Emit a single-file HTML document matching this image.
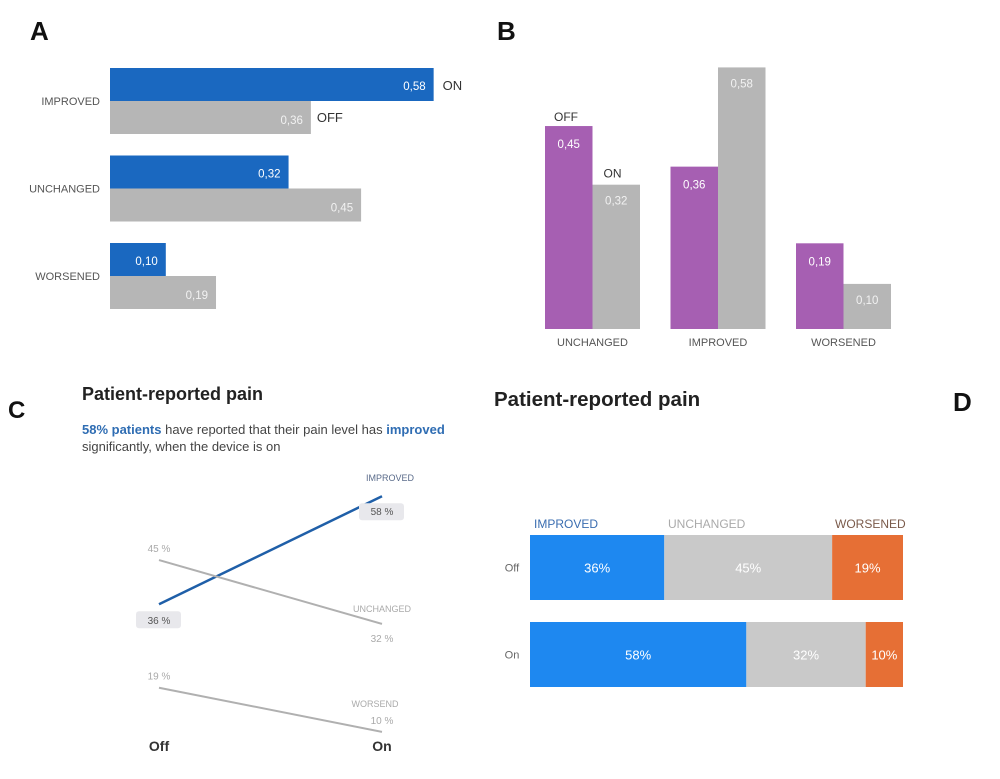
<!DOCTYPE html>
<html><head><meta charset="utf-8"><style>
html,body{margin:0;padding:0;background:#fff;}
svg{display:block;font-family:"Liberation Sans",sans-serif;}
</style></head><body>
<svg id="root" width="1000" height="779" viewBox="0 0 1000 779">
<text x="30" y="40" font-size="26" font-weight="bold" fill="#111">A</text>
<text x="497" y="40" font-size="26" font-weight="bold" fill="#111">B</text>
<text x="8" y="418" font-size="24" font-weight="bold" fill="#111">C</text>
<text x="953" y="411" font-size="26" font-weight="bold" fill="#111">D</text>
<g id="ga"></g>
<g id="gb"></g>
<g id="gc">
<text x="82" y="400" font-size="18" font-weight="bold" fill="#222">Patient-reported pain</text>
<text x="82" y="434" font-size="13" fill="#444"><tspan font-weight="bold" fill="#2f6db3">58% patients</tspan> have reported that their pain level has <tspan font-weight="bold" fill="#2f6db3">improved</tspan></text>
<text x="82" y="451" font-size="13" fill="#444">significantly, when the device is on</text>
</g>
<g id="gd">
<text x="494" y="406" font-size="20.5" font-weight="bold" fill="#222">Patient-reported pain</text>
</g>
</svg>
<script>
const NS='http://www.w3.org/2000/svg';
function mk(parent,tag,attrs,txt){const e=document.createElementNS(NS,tag);for(const k in attrs)e.setAttribute(k,attrs[k]);if(txt!==undefined)e.textContent=txt;parent.appendChild(e);return e;}

// ---- Chart A data ----
const aCategories=['IMPROVED','UNCHANGED','WORSENED'];
const aOn=[0.58,0.32,0.10];
const aOff=[0.36,0.45,0.19];
// ---- Chart B data ----
const bCategories=['UNCHANGED','IMPROVED','WORSENED'];
const bOff=[0.45,0.36,0.19];
const bOn=[0.32,0.58,0.10];
// ---- Chart C data ----
const cSeries=['IMPROVED','UNCHANGED','WORSEND'];
const cOff=[36,45,19];
const cOn=[58,32,10];
// ---- Chart D data ----
const dRows=['Off','On'];
const dImproved=[36,58];
const dUnchanged=[45,32];
const dWorsened=[19,10];

const fmt=v=>v.toFixed(2).replace('.',',');

// Chart A
(function(){
  const g=document.getElementById('ga');
  const x0=110, xs=v=>v*558, rowY=i=>68+i*87.5, bh=33;
  aCategories.forEach((c,i)=>{
    const y=rowY(i);
    let t=mk(g,'text',{x:100,y:y+bh+4,'text-anchor':'end','font-size':11,fill:'#555'},c);
    
    let r=mk(g,'rect',{x:x0,y:y,width:xs(aOn[i]),height:bh,fill:'#1a68c0'});
    
    t=mk(g,'text',{x:x0+xs(aOn[i])-8,y:y+22,'text-anchor':'end','font-size':11.5,fill:'#fff'},fmt(aOn[i]));
    
    r=mk(g,'rect',{x:x0,y:y+bh,width:xs(aOff[i]),height:bh,fill:'#b6b6b6'});
    
    t=mk(g,'text',{x:x0+xs(aOff[i])-8,y:y+bh+23,'text-anchor':'end','font-size':11.5,fill:'#f2f2f2'},fmt(aOff[i]));
    
    if(i===0){
      t=mk(g,'text',{x:x0+xs(aOn[i])+9,y:y+22,'font-size':13,fill:'#333'},'ON');
      
      t=mk(g,'text',{x:x0+xs(aOff[i])+6,y:y+bh+21,'font-size':13,fill:'#333'},'OFF');
      
    }
  });
})();

// Chart B
(function(){
  const g=document.getElementById('gb');
  const base=329, ys=v=>v*451, gx=i=>545+i*125.5, bw=47.5;
  bCategories.forEach((c,i)=>{
    const x=gx(i);
    let r=mk(g,'rect',{x:x,y:base-ys(bOff[i]),width:bw,height:ys(bOff[i]),fill:'#a65fb2'});
    
    let t=mk(g,'text',{x:x+bw/2,y:base-ys(bOff[i])+22,'text-anchor':'middle','font-size':11.5,fill:'#fff'},fmt(bOff[i]));
    
    r=mk(g,'rect',{x:x+bw,y:base-ys(bOn[i]),width:bw,height:ys(bOn[i]),fill:'#b6b6b6'});
    
    t=mk(g,'text',{x:x+bw*1.5,y:base-ys(bOn[i])+20,'text-anchor':'middle','font-size':11.5,fill:'#f2f2f2'},fmt(bOn[i]));
    
    t=mk(g,'text',{x:x+bw,y:346,'text-anchor':'middle','font-size':11,fill:'#555'},c);
    
    if(i===0){
      t=mk(g,'text',{x:x+9,y:base-ys(bOff[i])-5,'font-size':12,fill:'#333'},'OFF');
      
      t=mk(g,'text',{x:x+bw+11,y:base-ys(bOn[i])-7,'font-size':12,fill:'#333'},'ON');
      
    }
  });
})();

// Chart C
(function(){
  const g=document.getElementById('gc');
  const xOff=159,xOn=382, ys=v=>781-v*4.91;
  const colors=['#1f5fa8','#b0b0b0','#b0b0b0'], widths=[2.5,2,2];
  cSeries.forEach((s,i)=>{
    let l=mk(g,'line',{x1:xOff,y1:ys(cOff[i]),x2:xOn,y2:ys(cOn[i]),stroke:colors[i],'stroke-width':widths[i]});
    
  });
  let t;
  t=mk(g,'text',{x:xOn+8,y:ys(cOn[0])-15,'text-anchor':'middle','font-size':9,fill:'#5a6b8a'},cSeries[0]);
  
  let r=mk(g,'rect',{x:xOn-23,y:ys(cOn[0])+7,width:45,height:17,rx:3,fill:'#e8e8ec'});
  
  t=mk(g,'text',{x:xOn,y:ys(cOn[0])+19,'text-anchor':'middle','font-size':10,fill:'#555'},cOn[0]+' %');
  
  r=mk(g,'rect',{x:xOff-23,y:ys(cOff[0])+7,width:45,height:17,rx:3,fill:'#e8e8ec'});
  
  t=mk(g,'text',{x:xOff,y:ys(cOff[0])+20,'text-anchor':'middle','font-size':10,fill:'#555'},cOff[0]+' %');
  
  t=mk(g,'text',{x:xOff,y:ys(cOff[1])-8,'text-anchor':'middle','font-size':10,fill:'#aaa'},cOff[1]+' %');
  
  t=mk(g,'text',{x:xOn,y:ys(cOn[1])-12,'text-anchor':'middle','font-size':9,fill:'#aaa'},cSeries[1]);
  
  t=mk(g,'text',{x:xOn,y:ys(cOn[1])+18,'text-anchor':'middle','font-size':10,fill:'#aaa'},cOn[1]+' %');
  
  t=mk(g,'text',{x:xOff,y:ys(cOff[2])-8,'text-anchor':'middle','font-size':10,fill:'#aaa'},cOff[2]+' %');
  
  t=mk(g,'text',{x:xOn-7,y:ys(cOn[2])-25,'text-anchor':'middle','font-size':9,fill:'#aaa'},cSeries[2]);
  
  t=mk(g,'text',{x:xOn,y:ys(cOn[2])-8,'text-anchor':'middle','font-size':10,fill:'#aaa'},cOn[2]+' %');
  
  t=mk(g,'text',{x:xOff,y:751,'text-anchor':'middle','font-size':14,'font-weight':'bold',fill:'#333'},'Off');
  
  t=mk(g,'text',{x:xOn,y:751,'text-anchor':'middle','font-size':14,'font-weight':'bold',fill:'#333'},'On');
  
})();

// Chart D
(function(){
  const g=document.getElementById('gd');
  const x0=530, xs=v=>v*3.73, rowY=i=>535+i*87, bh=65;
  const segs=[dImproved,dUnchanged,dWorsened], cols=['#1e88f0','#c9c9c9','#e66f35'], names=['improved','unchanged','worsened'];
  let t;
  t=mk(g,'text',{x:534,y:528,'font-size':12,fill:'#3a6db0'},'IMPROVED');
  
  t=mk(g,'text',{x:668,y:528,'font-size':12,fill:'#aaa'},'UNCHANGED');
  
  t=mk(g,'text',{x:835,y:528,'font-size':12,fill:'#7a5a4a'},'WORSENED');
  
  dRows.forEach((rw,i)=>{
    const y=rowY(i);
    t=mk(g,'text',{x:512,y:y+bh/2+4,'text-anchor':'middle','font-size':11,fill:'#666'},rw);
    
    let cx=x0;
    segs.forEach((arr,j)=>{
      const w=xs(arr[i]);
      const r=mk(g,'rect',{x:cx,y:y,width:w,height:bh,fill:cols[j]});
      
      const tt=mk(g,'text',{x:cx+w/2,y:y+bh/2+5,'text-anchor':'middle','font-size':13,fill:'#fff'},arr[i]+'%');
      
      cx+=w;
    });
  });
})();
</script>
</body></html>
